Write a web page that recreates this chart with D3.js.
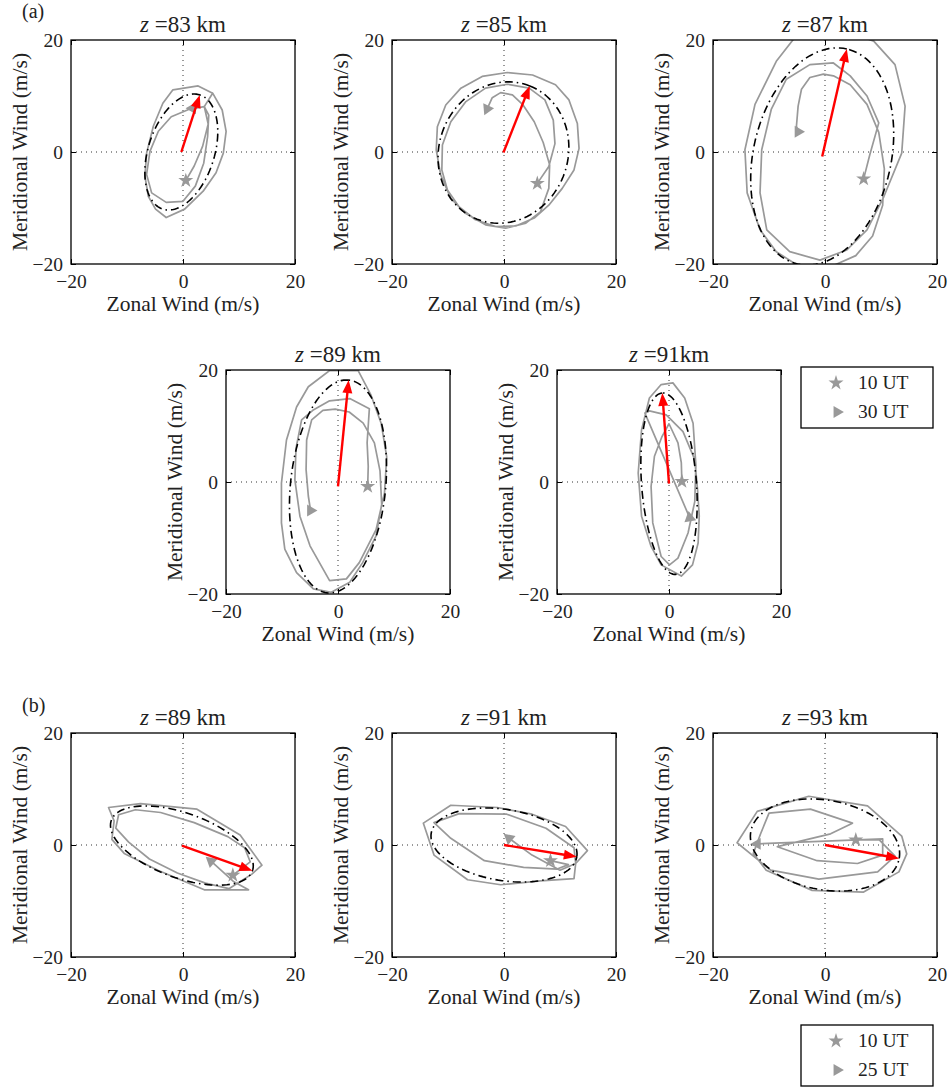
<!DOCTYPE html>
<html><head><meta charset="utf-8">
<script src="https://cdn.jsdelivr.net/npm/d3@7"></script>
<style>
body{margin:0;background:#fff}
svg{display:block}
text{font-family:"Liberation Serif","Times New Roman",serif;fill:#222}
</style>
</head><body>
<svg id="c" width="950" height="1092"></svg>
<script>
// ---------------- DATA ----------------
const panelTitles = ["83 km", "85 km", "87 km", "89 km", "91km", "89 km", "91 km", "93 km"];
const tickValues = [-20, 0, 20];
const legendLabelsA = ["10 UT", "30 UT"];
const legendLabelsB = ["10 UT", "25 UT"];

// fitted ellipse: centre, tip of major-axis arrow, semi-minor axis (m/s)
const ellCenterU = [-0.3, -0.1, -0.5, 0.0, 0.0, -0.2, 0.0, 0.0];
const ellCenterV = [0.0, -0.1, -0.8, -0.8, -0.3, -0.1, 0.0, 0.0];
const arrowTipU  = [3.0, 4.6, 3.9, 1.9, -1.2, 12.4, 13.0, 13.25];
const arrowTipV  = [10.2, 11.8, 18.4, 18.2, 15.9, -4.6, -2.1, -2.4];
const ellMinor   = [5.9, 11.5, 12.3, 8.5, 4.9, 5.8, 6.35, 8.0];

// hourly wind hodographs [u, v] from start (star) to end (triangle)
const traj83 = [[0.5,-5.1],[2.0,-2.5],[3.5,1.0],[4.5,5.0],[3.8,8.1],[1.0,7.6],[-2.1,6.3],[-4.4,3.7],[-5.9,0.1],[-6.5,-4.0],[-5.6,-7.3],[-3.0,-9.0],[0.0,-8.8],[2.2,-6.1],[3.7,-2.0],[4.4,2.8],[4.6,6.6],[3.8,8.1]];
const traj83b = [[3.8,8.1],[5.3,10.5],[7.0,7.5],[7.7,3.7],[7.2,-0.2],[5.9,-3.7],[3.6,-7.0],[0.3,-10.2],[-3.0,-11.7],[-4.9,-10.2],[-6.2,-7.9],[-6.8,-4.3],[-6.5,-0.2],[-5.3,4.6],[-3.6,8.7],[-1.8,11.1],[2.7,11.8],[5.3,10.5]];
const traj85 = [[5.95,-5.6],[8.0,-2.6],[9.1,1.5],[8.8,5.7],[7.3,9.3],[4.5,11.4],[0.6,12.1],[-3.3,11.4],[-6.8,9.0],[-9.5,5.4],[-11.0,1.25],[-11.1,-3.2],[-10.1,-6.8],[-8.0,-9.8],[-5.1,-12.1],[-1.5,-13.3],[2.1,-13.2],[5.4,-11.8],[8.0,-9.5],[10.4,-6.5],[12.5,-3.2],[13.4,0.65],[13.1,5.1],[11.6,9.3],[9.2,12.0],[5.1,13.75],[0.6,14.2],[-3.9,13.5],[-7.7,11.4],[-10.4,8.4],[-11.9,4.5],[-12.1,0.35],[-11.3,-4.1],[-9.5,-8.3],[-6.8,-11.0],[-3.3,-13.0],[0.3,-13.6],[3.9,-12.7],[6.5,-10.7],[8.0,-6.5],[8.15,-2.3],[7.0,1.7],[5.4,5.4],[3.4,8.4],[1.5,10.2],[-0.6,10.6],[-2.1,9.7],[-3.0,7.7]];
const traj87 = [[6.9,-4.8],[8.0,-0.5],[9.6,5.2],[7.5,10.0],[4.5,13.6],[1.5,15.9],[-2.7,15.6],[-6.9,13.0],[-9.6,7.6],[-11.3,0.4],[-11.6,-7.3],[-10.4,-13.9],[-6.3,-17.8],[-0.9,-19.3],[3.9,-17.5],[7.5,-13.9],[10.5,-8.0],[13.7,-0.2],[14.3,8.2],[12.5,15.6],[8.7,19.8],[4.0,21.5],[-2.0,21.5],[-5.5,20.3],[-8.7,16.2],[-12.5,8.5],[-14.3,0.4],[-13.9,-7.3],[-11.6,-13.9],[-8.7,-17.8],[-4.5,-20.5],[1.0,-20.5],[5.5,-18.5],[8.5,-15.0],[10.3,-9.5],[10.6,-3.0],[9.6,3.5],[7.5,8.5],[4.5,12.0],[1.5,13.6],[-0.3,13.9],[-2.7,13.3],[-4.2,11.2],[-4.8,8.2],[-5.1,4.6],[-4.8,3.6]];
const traj89a = [[5.3,-0.8],[5.4,2.8],[5.2,7.0],[5.6,13.1],[2.1,14.9],[-1.5,14.5],[-4.5,12.8],[-6.5,11.1],[-7.5,6.0],[-7.7,0.4],[-6.8,-6.1],[-5.0,-11.4],[-1.5,-17.6],[1.5,-17.3],[3.8,-14.4],[6.8,-8.5],[8.3,-2.0],[8.7,4.5],[7.7,10.5],[5.9,15.5],[3.6,19.9],[-1.5,19.9],[-5.3,17.0],[-7.4,13.4],[-9.2,7.5],[-10.1,-0.2],[-10.1,-7.3],[-9.5,-12.0],[-7.4,-16.2],[-4.4,-19.1],[-1.2,-19.7],[2.1,-17.9],[4.4,-14.4],[6.8,-9.6],[7.8,-4.0],[7.5,2.0],[6.5,7.0],[4.5,10.5],[2.0,12.5],[-0.5,13.0],[-2.7,12.8],[-4.7,11.1],[-5.6,7.5],[-5.7,2.2],[-5.3,-2.5],[-4.9,-5.1]];
const traj91a = [[2.3,0.1],[2.2,3.4],[1.6,7.0],[0.0,10.4],[-1.3,8.0],[-2.6,4.6],[-3.2,-0.8],[-2.9,-7.3],[-1.4,-13.3],[0.1,-14.8],[1.6,-13.6],[3.4,-9.1],[4.6,-3.5],[4.8,3.0],[4.3,10.5],[2.8,15.0],[0.7,17.7],[-1.4,17.4],[-3.5,15.0],[-4.9,9.3],[-5.5,1.6],[-4.9,-6.1],[-3.2,-11.5],[-1.4,-14.8],[2.2,-16.8],[4.2,-14.8],[5.2,-10.9],[5.4,-6.1],[5.1,-1.4],[4.6,4.0],[2.5,9.0],[-0.5,12.0],[-3.5,12.7],[-4.3,12.3],[3.7,-6.4]];
const traj89b = [[8.9,-5.4],[12.0,-3.0],[11.0,-0.5],[8.0,1.5],[2.0,4.0],[-4.0,5.8],[-8.5,6.3],[-11.5,5.4],[-12.0,3.0],[-9.7,0.5],[-6.0,-2.5],[-1.0,-5.0],[4.0,-6.8],[8.2,-7.8],[12.3,-5.2],[14.1,-3.6],[10.2,1.8],[2.5,6.4],[-7.6,7.4],[-13.3,6.7],[-12.3,4.3],[-12.7,1.0],[-10.5,-1.5],[-4.5,-4.5],[3.8,-8.0],[11.7,-8.0],[9.0,-6.5],[5.0,-2.9]];
const traj91b = [[8.3,-2.8],[11.5,-3.5],[9.5,-4.3],[3.5,-4.0],[-3.5,-2.8],[-9.5,1.2],[-12.5,4.0],[-8.0,5.6],[0.5,5.5],[7.5,3.0],[12.5,-0.5],[12.8,-3.3],[12.5,-6.0],[6.5,-6.4],[-0.6,-7.1],[-6.5,-6.2],[-12.5,-1.8],[-14.4,3.9],[-9.5,7.1],[-1.2,6.7],[5.0,5.5],[11.0,3.3],[14.9,-1.0],[12.8,-3.3],[10.0,-4.5],[5.0,-1.8],[0.9,1.2]];
const traj93 = [[5.5,0.9],[9.7,0.9],[12.5,-2.0],[9.4,-4.8],[-1.1,-6.1],[-9.7,-4.5],[-15.7,0.4],[-12.1,6.0],[-2.9,8.7],[7.6,7.0],[13.7,1.6],[14.6,-1.6],[13.2,-4.8],[6.9,-8.4],[-2.3,-8.1],[-10.5,-4.5],[-12.8,-1.5],[-11.5,2.0],[-10.0,5.7],[-2.6,6.4],[4.9,3.9],[1.0,2.0],[-8.5,-0.3],[-1.4,-2.8],[5.8,-3.3],[10.3,-1.8],[10.3,1.1],[-12.1,0.2]];
const trajectories = [[traj83, traj83b], [traj85], [traj87], [traj89a], [traj91a], [traj89b], [traj91b], [traj93]];
const startPoints = [[0.5,-5.1],[5.95,-5.6],[6.9,-4.8],[5.3,-0.8],[2.3,0.1],[8.9,-5.4],[8.3,-2.8],[5.5,0.9]];
const endPoints   = [[1.7,7.8],[-3.0,7.7],[-4.8,3.6],[-4.9,-5.1],[3.7,-6.4],[5.0,-2.9],[0.9,1.2],[-12.1,0.2]];
const endMarkerAngle = [60, -115, 0, 0, -20, 140, 20, 180];

// ---------------- LAYOUT ----------------
const panels = [
  {x:71, y:40}, {x:392, y:40}, {x:713, y:40},
  {x:226, y:370}, {x:557, y:370},
  {x:71, y:733}, {x:392, y:733}, {x:713, y:733}
];
const S = 224;
const GRAY = "#999999";
const svg = d3.select("#c");
const defs = svg.append("defs");

function starPath(size){ return d3.symbol(d3.symbolStar, size)(); }
function triPath(size){ return d3.symbol(d3.symbolTriangle, size)(); }

panels.forEach((p, i) => {
  const x = d3.scaleLinear().domain([-20, 20]).range([0, S]);
  const y = d3.scaleLinear().domain([-20, 20]).range([S, 0]);
  const g = svg.append("g").attr("transform", `translate(${p.x},${p.y})`);

  defs.append("clipPath").attr("id", "clip" + i)
    .append("rect").attr("width", S).attr("height", S);

  // dotted zero lines
  g.append("line").attr("x1", x(0)).attr("x2", x(0)).attr("y1", 0).attr("y2", S)
    .attr("stroke", "#333").attr("stroke-width", 1).attr("stroke-dasharray", "1,4");
  g.append("line").attr("y1", y(0)).attr("y2", y(0)).attr("x1", 0).attr("x2", S)
    .attr("stroke", "#333").attr("stroke-width", 1).attr("stroke-dasharray", "1,4");

  const plot = g.append("g").attr("clip-path", `url(#clip${i})`);
  const line = d3.line().x(d => x(d[0])).y(d => y(d[1]));

  trajectories[i].forEach(tr => {
    plot.append("path").attr("d", line(tr)).attr("fill", "none")
      .attr("stroke", GRAY).attr("stroke-width", 1.7).attr("stroke-linejoin", "round");
  });

  // fitted ellipse
  const cu = ellCenterU[i], cv = ellCenterV[i];
  const du = arrowTipU[i] - cu, dv = arrowTipV[i] - cv;
  const a = Math.hypot(du, dv), b = ellMinor[i], phi = Math.atan2(dv, du);
  const ts = d3.range(0, 361, 3).map(t => t * Math.PI / 180);
  const ell = ts.map(t => [
    cu + a * Math.cos(phi) * Math.cos(t) - b * Math.sin(phi) * Math.sin(t),
    cv + a * Math.sin(phi) * Math.cos(t) + b * Math.cos(phi) * Math.sin(t)
  ]);
  plot.append("path").attr("d", line(ell)).attr("fill", "none")
    .attr("stroke", "#000").attr("stroke-width", 1.6)
    .attr("stroke-dasharray", "8,4,1.5,4");

  // markers
  const sp = startPoints[i], ep = endPoints[i];
  g.append("path").attr("d", starPath(70))
    .attr("transform", `translate(${x(sp[0])},${y(sp[1])})`).attr("fill", GRAY);
  g.append("path").attr("d", triPath(62))
    .attr("transform", `translate(${x(ep[0])},${y(ep[1])}) rotate(${90 - endMarkerAngle[i]})`)
    .attr("fill", GRAY);

  // red arrow
  const x0 = x(cu), y0 = y(cv), x1 = x(arrowTipU[i]), y1 = y(arrowTipV[i]);
  const ang = Math.atan2(y1 - y0, x1 - x0);
  const hl = 13, hw = 5;
  const bx = x1 - hl * Math.cos(ang), by = y1 - hl * Math.sin(ang);
  g.append("line").attr("x1", x0).attr("y1", y0).attr("x2", bx + 2*Math.cos(ang)).attr("y2", by + 2*Math.sin(ang))
    .attr("stroke", "#ff0000").attr("stroke-width", 2.4);
  g.append("path").attr("d",
    `M${x1},${y1}L${bx - hw*Math.sin(ang)},${by + hw*Math.cos(ang)}L${bx + hw*Math.sin(ang)},${by - hw*Math.cos(ang)}Z`)
    .attr("fill", "#ff0000");

  // box
  g.append("rect").attr("width", S).attr("height", S).attr("fill", "none")
    .attr("stroke", "#000").attr("stroke-width", 1.3);

  // axes
  const ax = g.append("g").attr("transform", `translate(0,${S})`)
    .call(d3.axisBottom(x).tickValues(tickValues).tickSizeInner(-5).tickSizeOuter(0).tickPadding(10));
  const ay = g.append("g")
    .call(d3.axisLeft(y).tickValues(tickValues).tickSizeInner(-5).tickSizeOuter(0).tickPadding(8));
  const at = g.append("g")
    .call(d3.axisTop(x).tickValues(tickValues).tickSizeInner(-5).tickSizeOuter(0).tickFormat(""));
  const ar = g.append("g").attr("transform", `translate(${S},0)`)
    .call(d3.axisRight(y).tickValues(tickValues).tickSizeInner(-5).tickSizeOuter(0).tickFormat(""));
  [ax, ay, at, ar].forEach(A => {
    A.select(".domain").remove();
    A.selectAll("line").attr("stroke", "#000");
    A.selectAll("text").attr("font-size", 19.5).attr("fill", "#222")
      .style("font-family", '"Liberation Serif","Times New Roman",serif');
  });

  // axis labels
  g.append("text").attr("x", S / 2).attr("y", S + 47).attr("text-anchor", "middle")
    .attr("font-size", 21.5).text("Zonal Wind (m/s)");
  g.append("text").attr("transform", `translate(-44,${S / 2}) rotate(-90)`)
    .attr("text-anchor", "middle").attr("font-size", 21.5).text("Meridional Wind (m/s)");

  // title
  const t = g.append("text").attr("x", S / 2).attr("y", -8).attr("text-anchor", "middle")
    .attr("font-size", 23);
  t.append("tspan").attr("font-style", "italic").text("z");
  t.append("tspan").text(" =" + panelTitles[i]);
});

// panel letters
svg.append("text").attr("x", 22).attr("y", 18).attr("font-size", 20).text("(a)");
svg.append("text").attr("x", 22).attr("y", 712).attr("font-size", 20).text("(b)");

// legends
function legend(x0, y0, labels) {
  const g = svg.append("g").attr("transform", `translate(${x0},${y0})`);
  g.append("rect").attr("width", 132).attr("height", 61).attr("fill", "#fff")
    .attr("stroke", "#000").attr("stroke-width", 1.3);
  g.append("path").attr("d", starPath(70)).attr("transform", "translate(35,16)").attr("fill", GRAY);
  g.append("path").attr("d", triPath(62)).attr("transform", "translate(36,45) rotate(90)").attr("fill", GRAY);
  labels.forEach((l, k) => {
    g.append("text").attr("x", 57).attr("y", 22 + k * 29).attr("font-size", 19.5).text(l);
  });
}
legend(801, 367, legendLabelsA);
legend(801, 1025, legendLabelsB);
</script>
</body></html>
